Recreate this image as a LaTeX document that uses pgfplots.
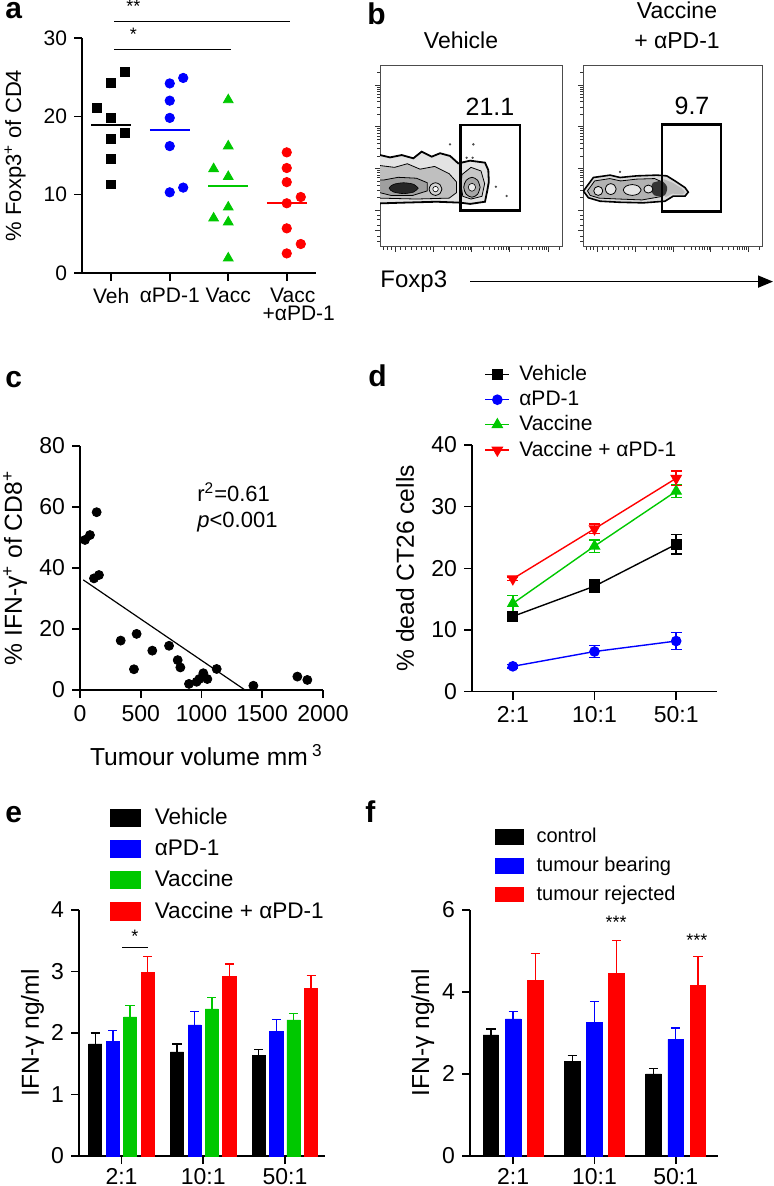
\documentclass[border=0pt]{standalone}
\usepackage{fontspec}
\setmainfont{Liberation Sans}
\usepackage{pgfplots}
\pgfplotsset{compat=1.18}
\usetikzlibrary{arrows.meta}

\definecolor{gblue}{RGB}{0,0,255}
\definecolor{ggreen}{RGB}{0,200,0}
\definecolor{gred}{RGB}{255,0,0}

\newcommand{\tfont}{\fontsize{11.5}{13.8}\selectfont}
\newcommand{\lfont}{\fontsize{12.3}{14.5}\selectfont}
\newcommand{\pfont}{\fontsize{15}{17}\selectfont\bfseries}

\pgfplotsset{
  gp/.style={
    anchor=south west,
    scale only axis,
    axis lines*=left,
    axis line style={line width=0.8pt},
    every tick/.style={line width=0.8pt, black},
    tick align=outside,
    major tick length=4pt,
    tick label style={font=\tfont},
    label style={font=\lfont},
    /pgf/number format/assume math mode=true,
    /pgf/number format/1000 sep={},
    scaled ticks=false,
    clip=false,
  },
  % upward error bar with cap, in the bar colour
  upbar/.style={
    error bars/y dir=plus, error bars/y explicit,
    error bars/error bar style={#1, line width=0.7pt},
    error bars/error mark options={#1, rotate=90, mark size=2.3pt, line width=0.7pt}
  },
  bothbar/.style={
    error bars/y dir=both, error bars/y explicit,
    error bars/error bar style={#1, line width=0.7pt},
    error bars/error mark options={#1, rotate=90, mark size=2.7pt, line width=0.7pt}
  },
  facs/.style={
    anchor=south west, scale only axis,
    xmin=0, xmax=100, ymin=0, ymax=100,
    axis line style={black!70, line width=0.5pt},
    xtick={8.3,29.3,50.3,71.3,92.3},
    ytick={9.4,20.4,43.4,66.4,89.4},
    minor xtick={2,4,6,11,14,17,20,23,25.5,27.5,35.6,39.3,41.9,44.0,45.6,47.0,48.3,49.4,56.6,60.3,62.9,65.0,66.6,68.0,69.3,70.4,77.6,81.3,83.9,86.0,87.6,89.0,90.3,91.4,98.6},
    minor ytick={3,6,12,15,17.5,27.3,31.4,34.2,36.5,38.3,39.8,41.2,42.4,50.3,54.4,57.2,59.5,61.3,62.8,64.2,65.4,73.3,77.4,80.2,82.5,84.3,85.8,87.2,88.4,96.3},
    xticklabels={}, yticklabels={},
    tick align=outside, major tick length=2.6pt, minor tick length=1.3pt,
    xtick pos=bottom, ytick pos=left,
    every tick/.style={black!80, line width=0.4pt},
  },
  % filled box for the bar legends, with blank room after it
  boxleg/.style n args={4}{legend image code/.code={\fill[#1] (0pt,-#3) rectangle (#2,#3);
    \path[draw=none, fill=none] (#2,0pt) -- (#4,0pt);}},
}

\begin{document}
\begin{tikzpicture}
\path[use as bounding box] (0,0) rectangle (387pt,-593pt);

% panel letters
\node[anchor=base west, inner sep=0pt, font=\pfont] at (2.5pt,-9.4pt) {a};
\node[anchor=base west, inner sep=0pt, font=\pfont] at (183.5pt,-12.5pt) {b};
\node[anchor=base west, inner sep=0pt, font=\pfont] at (2.5pt,-194pt) {c};
\node[anchor=base west, inner sep=0pt, font=\pfont] at (184pt,-193.5pt) {d};
\node[anchor=base west, inner sep=0pt, font=\pfont] at (2.5pt,-411pt) {e};
\node[anchor=base west, inner sep=0pt, font=\pfont] at (182.5pt,-411pt) {f};

% ---------------- a ----------------
\begin{axis}[gp, at={(41pt,-136.5pt)}, width=117pt, height=117.5pt,
  xmin=-0.5, xmax=3.5, ymin=0, ymax=30,
  xtick={0,1,2,3}, ytick={0,10,20,30},
  tick label style={font=\fontsize{10.5}{12}\selectfont},
  label style={font=\fontsize{11}{13}\selectfont},
  xticklabel style={align=center},
  xticklabels={Veh, αPD-1, Vacc, {\hspace*{6pt}Vacc\\[-3pt]\hspace*{12pt}+αPD-1}},
  ylabel={\% Foxp3\textsuperscript{+} of CD4},
  ylabel style={at={(axis description cs:-0.286,0.5)}, anchor=center}]
\addplot[only marks, mark=square*, mark size=2.2pt, black] coordinates {
  (0.23,25.7) (0,24.3) (-0.25,21.1) (0,19.8) (0.23,17.9) (0,17.1) (0,14.6) (0,11.3)};
\addplot[only marks, mark=*, mark size=2.35pt, gblue] coordinates {
  (1,24.2) (1.23,24.9) (1,22.0) (1,19.8) (1,16.2) (1,10.3) (1.23,10.9)};
\addplot[only marks, mark=triangle*, mark size=2.8pt, ggreen] coordinates {
  (2,22.1) (2,16.2) (1.75,13.3) (2,12.3) (2,8.4) (1.75,7.0) (2,6.5) (2,1.9)};
\addplot[only marks, mark=*, mark size=2.35pt, gred] coordinates {
  (3,15.4) (3,13.4) (3,11.6) (3.24,9.7) (3,8.9) (3,5.7) (3.24,3.7) (3,2.5)};
% group means
\addplot[black, line width=1pt] coordinates {(-0.34,18.9) (0.34,18.9)};
\addplot[gblue, line width=1pt] coordinates {(0.66,18.3) (1.34,18.3)};
\addplot[ggreen, line width=1pt] coordinates {(1.66,11.1) (2.34,11.1)};
\addplot[gred, line width=1pt] coordinates {(2.66,8.9) (3.34,8.9)};
\draw[line width=0.7pt] (axis cs:0.05,32.1) -- (axis cs:3.05,32.1);
\draw[line width=0.7pt] (axis cs:0.05,28.5) -- (axis cs:2.04,28.5);
\node[font=\fontsize{9}{10}\selectfont] at (axis cs:0.38,34.0) {**};
\node[font=\fontsize{9}{10}\selectfont] at (axis cs:0.38,30.5) {*};
\end{axis}

% ---------------- b ----------------
\node[font=\fontsize{11.5}{14}\selectfont] at (230.5pt,-20pt) {Vehicle};
\node[font=\fontsize{11.5}{15}\selectfont, align=center] at (338.5pt,-12.5pt) {Vaccine\\+ αPD-1};

\begin{axis}[facs, at={(190pt,-123.5pt)}, width=91pt, height=90.5pt]
\addplot[fill=gray!22, draw=black, line width=0.9pt] coordinates {
  (-2,50.8) (0,50.8) (5.5,49.5) (11.9,50.8) (18.3,49.0) (22.9,52.7) (28.4,49.9) (33.0,51.8)
  (38.5,50.3) (43.0,46.2) (49.5,47.7) (57.7,46.6) (59.5,42.5) (59.8,36) (59.0,31.5)
  (57.7,25.0) (49.5,23.8) (44.0,24.5) (31.1,25.0) (12.8,24.5) (0,24.1) (-2,24.1)} --cycle;
\addplot[fill=gray!50, draw=black, line width=0.4pt] coordinates {
  (-2,45) (0,45) (8,44) (15,46) (22,43) (30,44.5) (38,40.5) (42,36) (42,30) (38,27)
  (20,26.5) (0,27) (-2,27)} --cycle;
\addplot[fill=gray!45, draw=black, line width=0.4pt] coordinates {
  (45,40) (50,44) (55.5,42) (57.5,35) (56,28) (50,26.5) (45.5,28) (44.5,34)} --cycle;
\addplot[fill=gray!75, draw=black, line width=0.4pt] coordinates {
  (-2,37) (2,37) (10,38.5) (20,38) (26,35.5) (26,31) (18,28.5) (6,28.5) (0,30) (-2,30)} --cycle;
\addplot[fill=black!85, draw=black, line width=0.3pt, smooth] coordinates {
  (21,32.5) (18.6,34.6) (13,35.5) (7.4,34.6) (5,32.5) (7.4,30.4) (13,29.5) (18.6,30.4) (21,32.5)} --cycle;
\addplot[fill=gray!35, draw=black, line width=0.4pt, smooth] coordinates {
  (34,32) (32.95,34.45) (30.5,35.5) (28.05,34.45) (27,32) (28.05,29.55) (30.5,28.5) (32.95,29.55) (34,32)} --cycle;
\addplot[fill=white, draw=black, line width=0.3pt, smooth] coordinates {
  (32,32) (31.55,33.05) (30.5,33.5) (29.45,33.05) (29,32) (29.45,30.95) (30.5,30.5) (31.55,30.95) (32,32)} --cycle;
\addplot[fill=gray!70, draw=black, line width=0.4pt, smooth] coordinates {
  (55,33) (53.65,36.85) (50.5,38.5) (47.35,36.85) (46,33) (47.35,29.15) (50.5,27.5) (53.65,29.15) (55,33)} --cycle;
\addplot[fill=gray!15, draw=black, line width=0.3pt, smooth] coordinates {
  (52.5,33) (51.9,34.54) (50.5,35.2) (49.1,34.54) (48.5,33) (49.1,31.46) (50.5,30.8) (51.9,31.46) (52.5,33)} --cycle;
\addplot[only marks, mark=*, mark size=0.35pt, black!70] coordinates {
  (38.5,56.7) (51.3,56.7) (47.6,49.3) (50.9,49.3) (63.7,33.3) (69.6,28.2)};
\addplot[black, line width=1.3pt] coordinates {(44.3,20.1) (76.9,20.1) (76.9,67.4) (44.3,67.4)} --cycle;
\node[font=\fontsize{12.5}{15}\selectfont] at (axis cs:60.4,77.5) {21.1};
\end{axis}

\begin{axis}[facs, at={(291.5pt,-123.5pt)}, width=89.5pt, height=90.5pt]
\addplot[fill=gray!30, draw=black, line width=0.8pt] coordinates {
  (0.2,30.9) (5.8,38.4) (15.1,39.7) (20.7,38.4) (30.0,39.3) (41.2,39.7) (46.8,39.3)
  (51.4,36.5) (57.0,32.8) (58.8,30.3) (57.0,28.1) (50.4,28.1) (45.8,25.3) (33.7,24.4)
  (20.7,24.7) (9.5,25.3) (3.0,27.2)} --cycle;
\addplot[fill=gray!55, draw=none] coordinates {
  (45,37.5) (50,35.5) (55,32.5) (57,30.3) (55.5,29) (50,29.5) (46,27.5) (44,32)} --cycle;
\addplot[fill=gray!60, draw=black, line width=0.4pt] coordinates {
  (2.5,31) (6.5,36.5) (15,37.8) (21,36.5) (30,37.5) (40,37.8) (44,36) (44.5,28)
  (33,26) (20,26.5) (9,27) (4,28.5)} --cycle;
\addplot[fill=black!80, draw=none, smooth] coordinates {
  (39,35.5) (44,36.5) (47,33) (45.5,28.5) (40,28.5) (38,32) (39,35.5)} --cycle;
\addplot[fill=gray!20, draw=black, line width=0.4pt, smooth] coordinates {
  (11,31) (10.25,32.75) (8.5,33.5) (6.75,32.75) (6,31) (6.75,29.25) (8.5,28.5) (10.25,29.25) (11,31)} --cycle;
\addplot[fill=gray!20, draw=black, line width=0.4pt, smooth] coordinates {
  (18.5,32) (17.6,34.1) (15.5,35) (13.4,34.1) (12.5,32) (13.4,29.9) (15.5,29) (17.6,29.9) (18.5,32)} --cycle;
\addplot[fill=gray!20, draw=black, line width=0.4pt, smooth] coordinates {
  (32.5,31.5) (31,33.6) (27.5,34.5) (24,33.6) (22.5,31.5) (24,29.4) (27.5,28.5) (31,29.4) (32.5,31.5)} --cycle;
\addplot[fill=gray!20, draw=black, line width=0.4pt, smooth] coordinates {
  (39,32) (38.25,33.54) (36.5,34.2) (34.75,33.54) (34,32) (34.75,30.46) (36.5,29.8) (38.25,30.46) (39,32)} --cycle;
\addplot[only marks, mark=*, mark size=0.35pt, black!70] coordinates {(20.7,41.5)};
\addplot[black, line width=1.3pt] coordinates {(44.1,19.7) (77.1,19.7) (77.1,67.6) (44.1,67.6)} --cycle;
\node[font=\fontsize{12.5}{15}\selectfont] at (axis cs:60.9,77.7) {9.7};
\end{axis}

\node[anchor=west, inner sep=0pt, font=\fontsize{12}{14}\selectfont] at (190pt,-140.8pt) {Foxp3};
\draw[line width=0.8pt, -{Triangle[length=7.5pt, width=6pt]}] (235pt,-140.8pt) -- (386.5pt,-140.8pt);

% ---------------- c ----------------
\begin{axis}[gp, at={(40pt,-345pt)}, width=121.5pt, height=122pt,
  xmin=0, xmax=2000, ymin=0, ymax=80,
  xtick={0,500,1000,1500,2000}, ytick={0,20,40,60,80},
  xlabel={Tumour volume mm\,\textsuperscript{3}},
  xlabel style={at={(axis description cs:0.52,-0.266)}, anchor=center},
  ylabel={\% IFN-γ\textsuperscript{+} of CD8\textsuperscript{+}},
  ylabel style={at={(axis description cs:-0.267,0.5)}, anchor=center}]
\addplot[only marks, mark=*, mark size=2.25pt, black] coordinates {
  (41,49.2) (82,50.8) (137,58.3) (115,36.6) (156,37.7)
  (335,16.2) (466,18.4) (444,6.8) (595,12.9) (733,14.5) (804,9.8) (826,7.4)
  (897,2.0) (960,2.7) (982,3.6) (1015,5.5) (1048,3.6) (1125,6.9)
  (1427,1.4) (1789,4.4) (1871,3.3)};
\addplot[black, line width=0.6pt] coordinates {(27,36.1) (1358,0)};
\node[anchor=west, inner sep=0pt, font=\fontsize{11}{13}\selectfont] at (axis cs:963,64.9) {r\textsuperscript{2}=0.61};
\node[anchor=west, inner sep=0pt, font=\fontsize{11}{13}\selectfont] at (axis cs:963,55.1) {\textit{p}<0.001};
\end{axis}

% ---------------- d ----------------
\begin{axis}[gp, at={(236pt,-345.8pt)}, width=122.5pt, height=123.3pt,
  xmin=-0.5, xmax=2.5, ymin=0, ymax=40,
  xtick={0,1,2}, xticklabels={2:1,10:1,50:1}, ytick={0,10,20,30,40},
  ylabel={\% dead CT26 cells},
  ylabel style={at={(axis description cs:-0.273,0.5)}, anchor=center},
  legend image code/.code={\draw[mark repeat=2,mark phase=2,#1] plot coordinates {(0pt,0pt) (6pt,0pt) (12pt,0pt)};
    \path[draw=none, fill=none] (12pt,0pt) -- (15pt,0pt);},
  legend cell align=left,
  legend style={draw=none, fill=none, at={(axis description cs:0.05,1.34)}, anchor=north west,
    font=\fontsize{10.5}{12.6}\selectfont, inner sep=0pt, row sep=-0.4pt}]
\addplot[black, line width=0.7pt, mark=square*, mark size=2.4pt, bothbar=black] coordinates {
  (0,12.2) +- (0,0.7) (1,17.1) +- (0,1.0) (2,23.9) +- (0,1.6)};
\addlegendentry{Vehicle}
\addplot[gblue, line width=0.7pt, mark=*, mark size=2.3pt, bothbar=gblue] coordinates {
  (0,4.1) +- (0,0.3) (1,6.5) +- (0,1.0) (2,8.2) +- (0,1.4)};
\addlegendentry{αPD-1}
\addplot[ggreen, line width=0.7pt, mark=triangle*, mark size=2.8pt, bothbar=ggreen] coordinates {
  (0,14.3) +- (0,1.3) (1,23.6) +- (0,1.0) (2,32.5) +- (0,1.0)};
\addlegendentry{Vaccine}
\addplot[gred, line width=0.7pt, mark=triangle*, mark size=2.8pt, mark options={rotate=180}, bothbar=gred] coordinates {
  (0,18.3) +- (0,0.3) (1,26.4) +- (0,0.8) (2,34.6) +- (0,1.2)};
\addlegendentry{Vaccine + αPD-1}
\end{axis}

% ---------------- e ----------------
\begin{axis}[gp, at={(39.5pt,-578pt)}, width=123pt, height=123.1pt,
  ybar, bar width=6.6pt,
  xmin=-0.52, xmax=2.49, ymin=0, ymax=4,
  xtick={0,1,2}, xticklabels={2:1,10:1,50:1}, ytick={0,1,2,3,4},
  xticklabel style={yshift=1.5pt},
  ylabel={IFN-γ ng/ml},
  ylabel style={at={(axis description cs:-0.189,0.5)}, anchor=center},
  legend cell align=left,
  legend style={draw=none, fill=none, at={(axis description cs:0.126,1.430)}, anchor=north west,
    font=\fontsize{11.3}{13.5}\selectfont, inner sep=0pt, row sep=2pt}]
\addlegendimage{boxleg={black}{15pt}{4.3pt}{20pt}}
\addlegendentry{Vehicle}
\addlegendimage{boxleg={gblue}{15pt}{4.3pt}{20pt}}
\addlegendentry{αPD-1}
\addlegendimage{boxleg={ggreen}{15pt}{4.3pt}{20pt}}
\addlegendentry{Vaccine}
\addlegendimage{boxleg={gred}{15pt}{4.3pt}{20pt}}
\addlegendentry{Vaccine + αPD-1}
\addplot[forget plot, fill=black, draw=black, bar shift=-13.1pt, upbar=black] coordinates {
  (0,1.82) +- (0,0.18) (1,1.69) +- (0,0.13) (2,1.64) +- (0,0.09)};
\addplot[forget plot, fill=gblue, draw=gblue, bar shift=-4.3pt, upbar=gblue] coordinates {
  (0,1.86) +- (0,0.18) (1,2.13) +- (0,0.22) (2,2.02) +- (0,0.20)};
\addplot[forget plot, fill=ggreen, draw=ggreen, bar shift=4.3pt, upbar=ggreen] coordinates {
  (0,2.26) +- (0,0.19) (1,2.39) +- (0,0.19) (2,2.21) +- (0,0.11)};
\addplot[forget plot, fill=gred, draw=gred, bar shift=13.1pt, upbar=gred] coordinates {
  (0,2.98) +- (0,0.26) (1,2.92) +- (0,0.20) (2,2.72) +- (0,0.21)};
\draw[line width=0.7pt] (axis cs:0.01,3.39) -- (axis cs:0.32,3.39);
\node[font=\fontsize{9}{10}\selectfont] at (axis cs:0.165,3.57) {*};
\end{axis}

% ---------------- f ----------------
\begin{axis}[gp, at={(235pt,-578pt)}, width=124pt, height=123.1pt,
  ybar, bar width=7.8pt,
  xmin=-0.53, xmax=2.52, ymin=0, ymax=6,
  xtick={0,1,2}, xticklabels={2:1,10:1,50:1}, ytick={0,2,4,6},
  xticklabel style={yshift=1.5pt},
  ylabel={IFN-γ ng/ml},
  ylabel style={at={(axis description cs:-0.19,0.5)}, anchor=center},
  legend cell align=left,
  legend style={draw=none, fill=none, at={(axis description cs:0.1,1.349)}, anchor=north west,
    font=\fontsize{10}{12}\selectfont, inner sep=0pt, row sep=1.6pt}]
\addlegendimage{boxleg={black}{14pt}{3.6pt}{18.5pt}}
\addlegendentry{control}
\addlegendimage{boxleg={gblue}{14pt}{3.6pt}{18.5pt}}
\addlegendentry{tumour bearing}
\addlegendimage{boxleg={gred}{14pt}{3.6pt}{18.5pt}}
\addlegendentry{tumour rejected}
\addplot[forget plot, fill=black, draw=black, bar shift=-11.1pt, upbar=black] coordinates {
  (0,2.95) +- (0,0.15) (1,2.30) +- (0,0.15) (2,2.00) +- (0,0.14)};
\addplot[forget plot, fill=gblue, draw=gblue, bar shift=0pt, upbar=gblue] coordinates {
  (0,3.34) +- (0,0.18) (1,3.25) +- (0,0.51) (2,2.84) +- (0,0.28)};
\addplot[forget plot, fill=gred, draw=gred, bar shift=11.1pt, upbar=gred] coordinates {
  (0,4.27) +- (0,0.67) (1,4.44) +- (0,0.81) (2,4.16) +- (0,0.70)};
\node[font=\fontsize{9}{10}\selectfont] at (axis cs:1.267,5.69) {***};
\node[font=\fontsize{9}{10}\selectfont] at (axis cs:2.26,5.25) {***};
\end{axis}
\end{tikzpicture}
\end{document}
